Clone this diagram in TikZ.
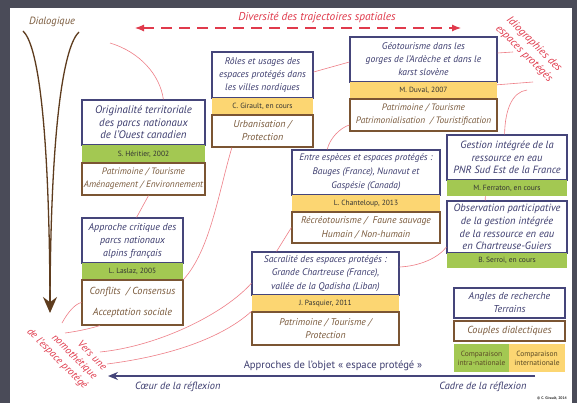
\documentclass[tikz,border=0pt]{standalone}
\usepackage{fontspec}
\setmainfont{PT Sans}
\usetikzlibrary{arrows.meta,calc}
\definecolor{navy}{HTML}{45457A}
\definecolor{navytxt}{HTML}{3C3C6E}
\definecolor{barG}{HTML}{A3C852}
\definecolor{barY}{HTML}{FCD672}
\definecolor{brn}{HTML}{7B5533}
\definecolor{brntxt}{HTML}{7A5A3C}
\definecolor{redtxt}{HTML}{E03A4C}
\definecolor{redln}{HTML}{EE7E87}
\definecolor{framecol}{HTML}{4A4B58}
\definecolor{funnelcol}{HTML}{5E3C1E}
\definecolor{cmptxt}{HTML}{5B4A26}
\begin{document}
\begin{tikzpicture}[x=1pt,y=-1pt,
  titlebox/.style={draw=navy,line width=1.2pt,fill=white,text=navytxt,align=center,inner sep=0pt,font=\fontsize{9.6}{13}\selectfont\itshape},
  greenbar/.style={fill=barG,inner sep=0pt,text=black!80,font=\fontsize{7.5}{8}\selectfont},
  yellowbar/.style={fill=barY,inner sep=0pt,text=black!80,font=\fontsize{7.5}{8}\selectfont},
  attrbox/.style={draw=brn,line width=1.2pt,fill=white,text=brntxt,align=center,inner sep=0pt,font=\fontsize{9.3}{13}\selectfont\itshape},
  link/.style={draw=redln,line width=0.6pt},
  redlabel/.style={text=redtxt,font=\fontsize{11}{14}\selectfont\itshape,inner sep=0pt},
  navylabel/.style={text=navytxt,font=\fontsize{10.6}{12}\selectfont,inner sep=0pt}
]
\fill[white] (0,0) rectangle (577,403);
\useasboundingbox (0,0) rectangle (577,403);
\fill[framecol] (0,0) rectangle (577,8);
\fill[framecol] (0,0) rectangle (10,403);
\fill[framecol] (572,0) rectangle (577,403);

% ---- funnel ----
\node[text=brntxt,font=\fontsize{10.5}{12}\selectfont\itshape,inner sep=0pt] (dia) at (52,22) {Dialogique};
\draw[funnelcol,line width=1.3pt] (23,31) .. controls (37,44) and (49,115) .. (50,300);
\draw[funnelcol,line width=1.3pt] (79,32) .. controls (65,45) and (51,115) .. (50,300);
\coordinate (fTop) at (50,290);
\coordinate (fTip) at (50,313);
\draw[funnelcol,line width=1.4pt,-{Stealth[length=16pt,width=14pt]}] (fTop) -- (fTip);

% ---- top dashed arrow ----
\node[redlabel,font=\fontsize{11.4}{13}\selectfont\itshape] (div) at (317,18) {Diversité des trajectoires spatiales};
\coordinate (dL) at (135,28);
\coordinate (dR) at (461,28);
\draw[redtxt,line width=1.1pt,dash pattern=on 11pt off 7pt,{Latex[length=9pt,width=7pt]}-{Latex[length=9pt,width=7pt]}] (dL) -- (dR);

\node[redlabel,rotate=-45,align=center] (idio) at (529,49) {Idiographies des\\espaces protégés};
\node[redlabel,font=\fontsize{10.5}{13.4}\selectfont\itshape,rotate=-45,align=right] (nomo) at (66.5,349.5) {Vers une\\nomothétique\\de l’espace protégé};

% ---- bottom axis ----
\node[navylabel] (appr) at (333,366) {Approches de l’objet « espace protégé »};
\coordinate (bR) at (535,376);
\coordinate (bL) at (108,376);
\draw[navy,line width=1.4pt,-{Stealth[length=10pt,width=8pt]}] (bR) -- (bL);
\node[navylabel,font=\fontsize{10.4}{12}\selectfont\itshape,anchor=west] (coeur) at (135,387) {Cœur de la réflexion};
\node[navylabel,font=\fontsize{10.4}{12}\selectfont\itshape] (cadre) at (483,387) {Cadre de la réflexion};
\node[inner sep=0pt,font=\fontsize{3.8}{4}\selectfont\bfseries,text=black!80] (copy) at (552,398) {© C. Girault, 2014};

% ---- stacks ----
\node[titlebox,minimum width=123pt,minimum height=45pt,font=\fontsize{10.9}{12.6}\selectfont\itshape] (t1) at (143.5,122.5) {Originalité territoriale\\des parcs nationaux\\de l’Ouest canadien};
\node[greenbar,minimum width=123pt,minimum height=18pt] (b1) at (143.5,154) {S. Héritier, 2002};
\node[attrbox,minimum width=123pt,minimum height=32pt] (a1) at (143.5,179) {Patrimoine / Tourisme\\Aménagement / Environnement};

\node[titlebox,minimum width=101pt,minimum height=45pt,font=\fontsize{10}{13}\selectfont\itshape] (t2) at (132.5,240.5) {Approche critique des\\parcs nationaux\\alpins français};
\node[greenbar,minimum width=101pt,minimum height=17pt] (b2) at (132.5,271.5) {L. Laslaz, 2005};
\node[attrbox,minimum width=101pt,minimum height=45pt,font=\fontsize{10.2}{21}\selectfont\itshape] (a2) at (132.5,302.5) {Conflits~ / Consensus\\Acceptation sociale};

\node[titlebox,minimum width=101pt,minimum height=46pt] (t3) at (262.5,75) {Rôles et usages des\\espaces protégés dans\\les villes nordiques};
\node[yellowbar,minimum width=101pt,minimum height=17pt] (b3) at (262.5,106.5) {C. Girault, en cours};
\node[attrbox,minimum width=101pt,minimum height=32pt,font=\fontsize{10}{13}\selectfont\itshape] (a3) at (262.5,131) {Urbanisation /\\Protection};

\node[titlebox,minimum width=147pt,minimum height=45pt] (t4) at (423.5,59.5) {Géotourisme dans les\\gorges de l’Ardèche et dans le\\karst slovène};
\node[yellowbar,minimum width=147pt,minimum height=17pt] (b4) at (423.5,90.5) {M. Duval, 2007};
\node[attrbox,minimum width=147pt,minimum height=32pt] (a4) at (423.5,115) {Patrimoine / Tourisme\\Patrimonialisation~ / Touristification};

\node[titlebox,minimum width=148pt,minimum height=45pt,font=\fontsize{9.4}{14}\selectfont\itshape] (t5) at (366,172.5) {Entre espèces et espaces protégés :\\Bauges (France), Nunavut et\\Gaspésie (Canada)};
\node[yellowbar,minimum width=148pt,minimum height=17pt] (b5) at (366,203.5) {L. Chanteloup, 2013};
\node[attrbox,minimum width=148pt,minimum height=31pt,font=\fontsize{9.7}{14}\selectfont\itshape] (a5) at (366,227.5) {Récréotourisme /~ Faune sauvage\\Humain / Non-humain};

\node[titlebox,minimum width=147pt,minimum height=43pt,font=\fontsize{9.6}{13.5}\selectfont\itshape] (t6) at (325.5,273.5) {Sacralité des espaces protégés :\\Grande Chartreuse (France),\\vallée de la Qadisha (Liban)};
\node[yellowbar,minimum width=147pt,minimum height=17pt] (b6) at (325.5,303.5) {J. Pasquier, 2011};
\node[attrbox,minimum width=147pt,minimum height=33pt,font=\fontsize{9.7}{13}\selectfont\itshape] (a6) at (325.5,328.5) {Patrimoine / Tourisme /\\Protection};

\node[titlebox,minimum width=120pt,minimum height=45pt,font=\fontsize{10.5}{12.7}\selectfont\itshape] (t7) at (507,157.5) {Gestion intégrée de la\\ressource en eau\\PNR Sud Est de la France};
\node[greenbar,minimum width=120pt,minimum height=16pt] (b7) at (507,188) {M. Ferraton, en cours};

\node[titlebox,minimum width=120pt,minimum height=52pt,font=\fontsize{10.5}{12.7}\selectfont\itshape] (t8) at (507,227) {Observation participative\\de la gestion intégrée\\de la ressource en eau\\en Chartreuse-Guiers};
\node[greenbar,minimum width=120pt,minimum height=15pt] (b8) at (507,260.5) {B. Serroi, en cours};

% ---- legend ----
\node[titlebox,minimum width=111pt,minimum height=30pt,font=\fontsize{10}{13}\selectfont\itshape] (lg1) at (509.5,303) {Angles de recherche\\Terrains};
\node[attrbox,minimum width=111pt,minimum height=20pt,font=\fontsize{10.2}{12}\selectfont\itshape] (lg2) at (509.5,331) {Couples dialectiques};
\node[fill=barG,minimum width=55pt,minimum height=28pt,inner sep=0pt,align=center,font=\fontsize{7.5}{9}\selectfont,text=cmptxt] (lg3) at (481.5,358) {Comparaison\\intra-nationale};
\node[fill=barY,minimum width=56pt,minimum height=28pt,inner sep=0pt,align=center,font=\fontsize{7.5}{9}\selectfont,text=cmptxt] (lg4) at (537,358) {Comparaison\\internationale};

% ---- red links ----
\coordinate (c1) at (110,43);
\draw[link] (c1) .. controls (140,52) and (160,75) .. ($(t1.north west)!0.66!(t1.north east)$);
\draw[link] ($(a1.south west)!0.54!(a1.south east)$) -- ($(t2.north west)!0.54!(t2.north east)$);
\draw[link] (a2.north east) .. controls (210,250) and (218,195) .. ($(a3.south west)!0.2!(a3.south east)$);
\coordinate (c4) at (62,323);
\draw[link] (c4) .. controls (68,312) and (75,304) .. (a2.west);
\coordinate (c5) at (65,333);
\draw[link] (c5) .. controls (80,331) and (92,328) .. ($(a2.south west)!0.18!(a2.south east)$);
\coordinate (c6) at (100,352);
\draw[link] (c6) .. controls (160,346) and (225,313) .. ($(t6.south west)!0.28!(t6.north west)$);
\coordinate (c7) at (107,364);
\draw[link] (c7) .. controls (170,356) and (222,338) .. (a6.north west);
\draw[link] ($(t6.north west)!0.17!(t6.north east)$) -- (a5.west);
\draw[link] ($(t5.north west)!0.24!(t5.north east)$) .. controls (330,138) and (340,128) .. ($(a4.south west)!0.2!(a4.north west)$);
\draw[link] ($(t3.east)+(0,-3)$) -- ($(t4.west)+(0,2.5)$);
\coordinate (c11) at (513,52);
\draw[link] ($(t4.east)+(0,-6.5)$) -- (c11);
\coordinate (c12) at (533,82);
\draw[link] ($(b4.north east)+(0,3)$) -- (c12);
\coordinate (c13) at (527,90);
\draw[link] (c13) .. controls (512,92) and (505,110) .. ($(t7.north west)!0.48!(t7.north east)$);
\draw[link] ($(b7.south west)!0.32!(b7.south east)$) -- ($(t8.north west)!0.32!(t8.north east)$);
\draw[link] ($(t6.east)+(0,-6.5)$) .. controls (420,266) and (438,258) .. ($(t8.west)+(0,20)$);
\end{tikzpicture}
\end{document}
